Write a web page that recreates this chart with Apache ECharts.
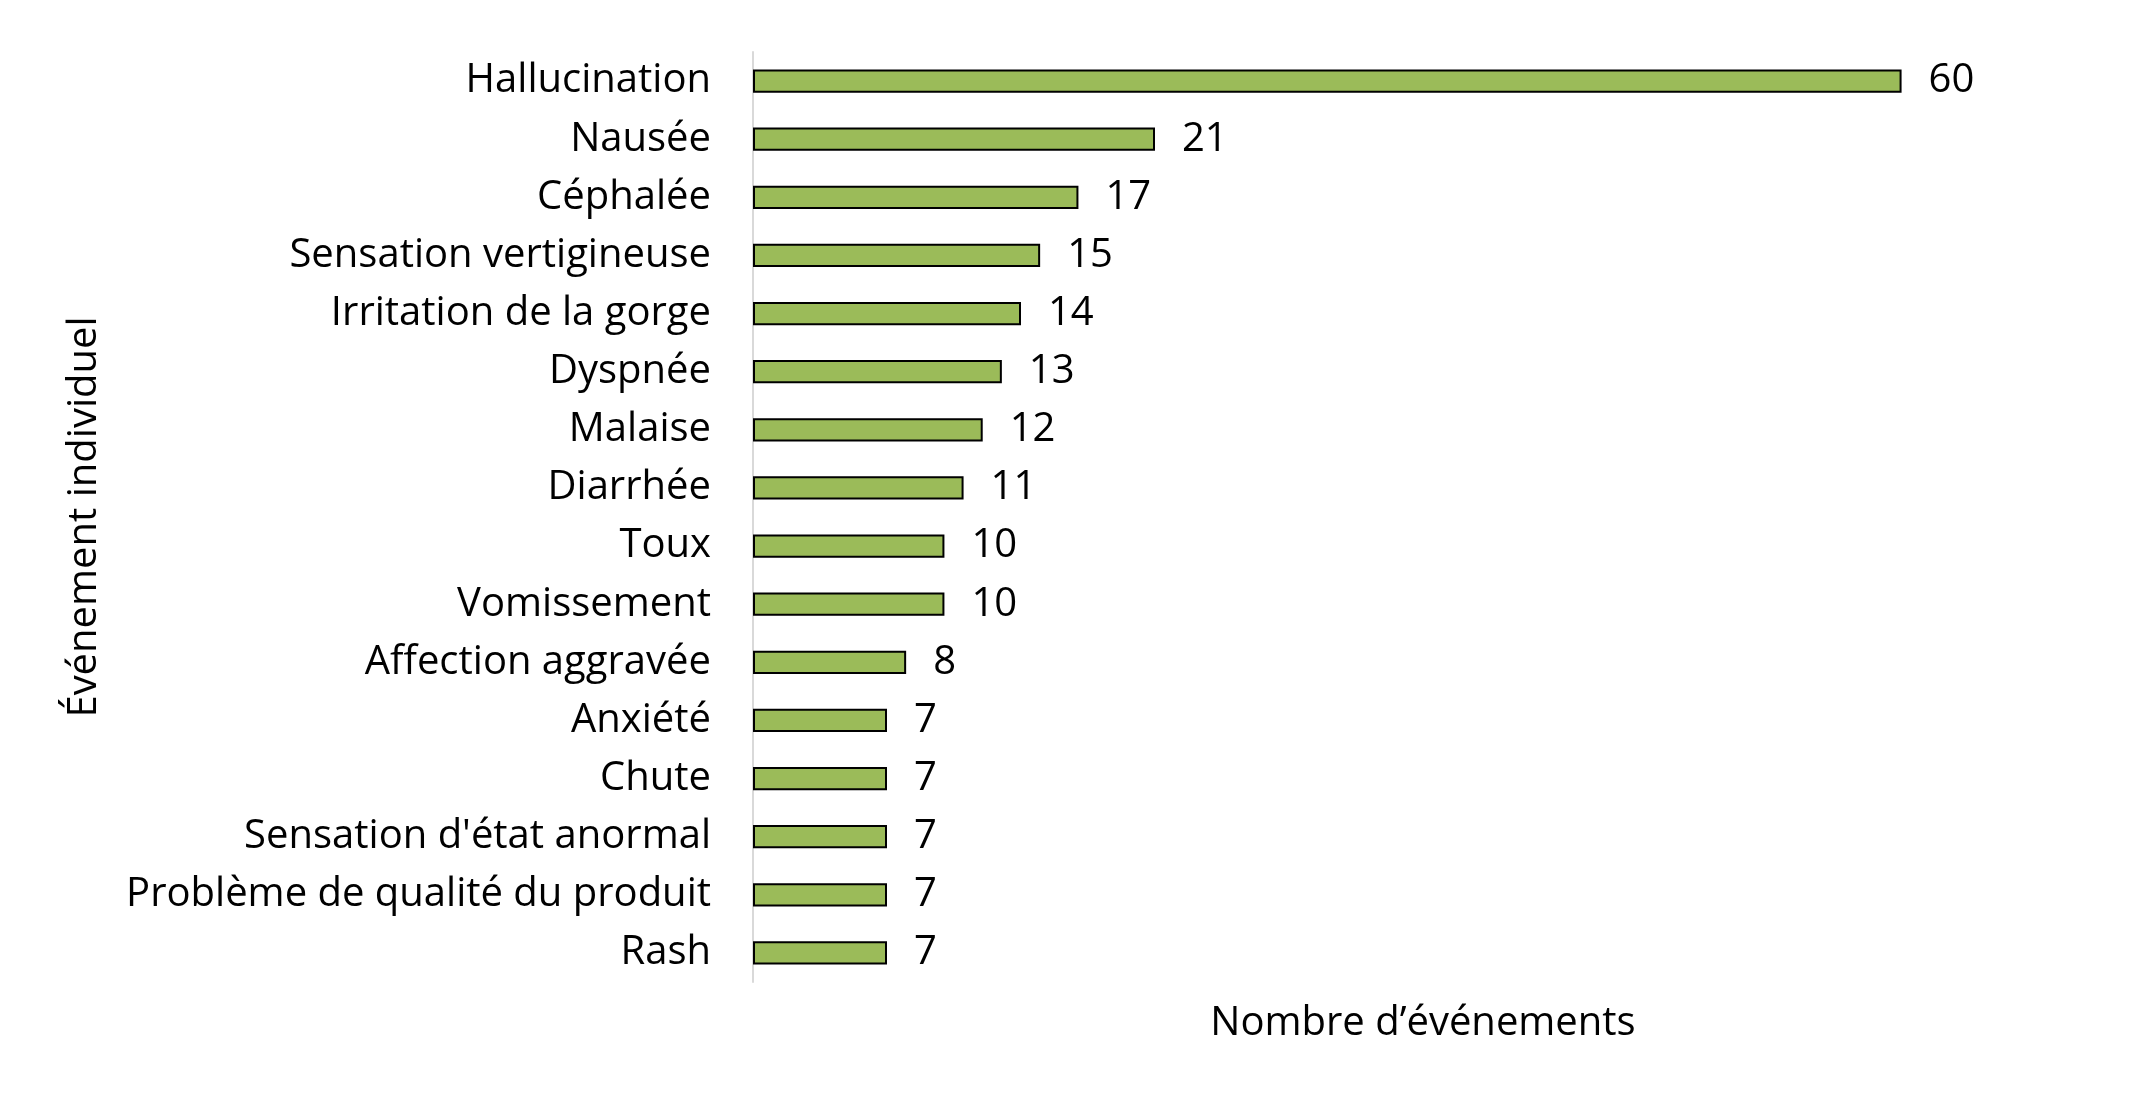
<!DOCTYPE html>
<html><head><meta charset="utf-8">
<script src="https://cdn.jsdelivr.net/npm/echarts@6/dist/echarts.min.js"></script>
<style>html,body{margin:0;padding:0;background:#fff}#c{width:2144px;height:1104px}</style>
</head><body><div id="c"></div>
<script>
const categories = ["Hallucination","Nausée","Céphalée","Sensation vertigineuse","Irritation de la gorge","Dyspnée","Malaise","Diarrhée","Toux","Vomissement","Affection aggravée","Anxiété","Chute","Sensation d'état anormal","Problème de qualité du produit","Rash"];
const values = [60,21,17,15,14,13,12,11,10,10,8,7,7,7,7,7];
const xTitle = "Nombre d’événements";
const yTitle = "Événement individuel";

const FONT = "Open Sans";
const chart = echarts.init(document.getElementById('c'));
chart.setOption({
  animation:false,
  backgroundColor:'#fff',
  grid:{left:753, right:51, top:52, bottom:122, containLabel:false},
  xAxis:{type:'value', min:0, max:70, show:true,
    axisLine:{show:false}, axisTick:{show:false}, axisLabel:{show:false}, splitLine:{show:false},
    name:xTitle, nameLocation:'middle', nameGap:22,
    nameTextStyle:{fontFamily:FONT, fontSize:40, color:'#000'}},
  yAxis:{type:'category', data:categories, inverse:true,
    axisLine:{show:true, lineStyle:{color:'#d9d9d9', width:2}},
    axisTick:{show:false},
    axisLabel:{fontFamily:FONT, fontSize:40, color:'#000', margin:42, padding:[4,0,0,0]},
    name:yTitle, nameLocation:'middle', nameGap:648, nameRotate:90,
    nameTextStyle:{fontFamily:FONT, fontSize:40, color:'#000'}},
  series:[{type:'bar', data:values, barCategoryGap:'60%',
    itemStyle:{color:'#9bbb59', borderColor:'#000', borderWidth:2},
    label:{show:true, position:'right', distance:27, fontFamily:FONT, fontSize:40, color:'#000', padding:[6,0,0,0]}}]
});
</script></body></html>
